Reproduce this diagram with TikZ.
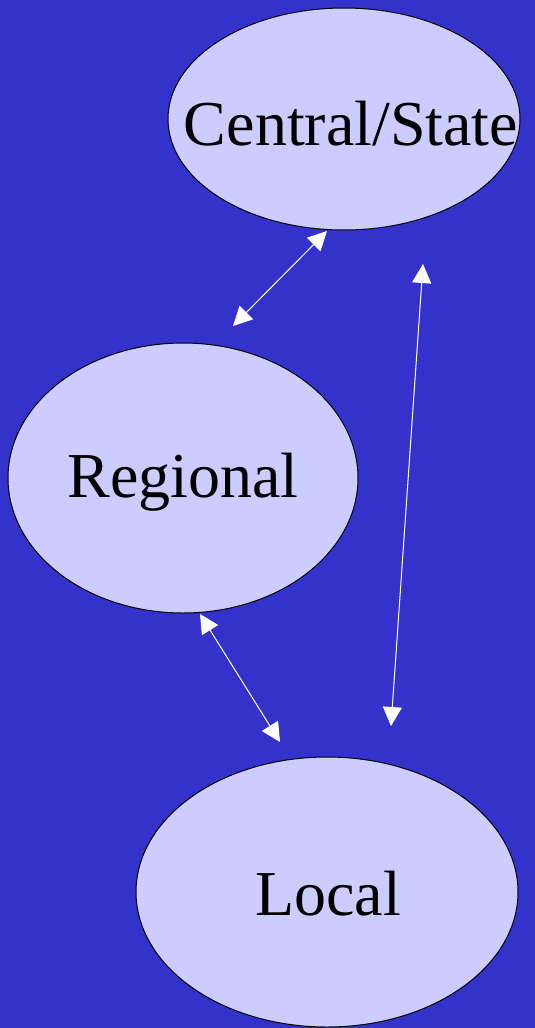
\documentclass[tikz,border=0pt]{standalone}
\usepackage{fontspec}
\setmainfont{Liberation Serif}
\usetikzlibrary{shapes.geometric, arrows.meta}
\definecolor{bgblue}{HTML}{3333CC}
\definecolor{paleblue}{HTML}{CCCCFF}

\begin{document}
\begin{tikzpicture}[x=1pt, y=-1pt,
    level/.style={ellipse, draw=black, line width=1pt, fill=paleblue, inner sep=0pt},
    levelname/.style={font=\fontsize{64}{64}\selectfont, inner sep=0pt},
    link/.style={white, line width=1pt, {Triangle[length=19pt,width=19pt]}-{Triangle[length=19pt,width=19pt]}}]
    \fill[bgblue] (0,0) rectangle (535,1028);
    \useasboundingbox (0,0) rectangle (535,1028);

    \node[level, minimum width=352pt, minimum height=222pt] (central) at (344,119) {};
    \node[level, minimum width=350pt, minimum height=270pt] (regional) at (183,478) {};
    \node[level, minimum width=382pt, minimum height=270pt] (local) at (327,892) {};

    \node[levelname] (centraltext) at (351,124) {Central/State};
    \node[levelname] (regionaltext) at (183,482) {Regional};
    \node[levelname] (localtext) at (328,894) {Local};

    \coordinate (c1) at (327,231);
    \coordinate (r1) at (233,326);
    \coordinate (c2) at (423,264);
    \coordinate (l2) at (391,726);
    \coordinate (r3) at (200,614);
    \coordinate (l3) at (280,742);

    \draw[link] (c1) -- (r1);
    \draw[link] (c2) -- (l2);
    \draw[link] (r3) -- (l3);
\end{tikzpicture}
\end{document}
